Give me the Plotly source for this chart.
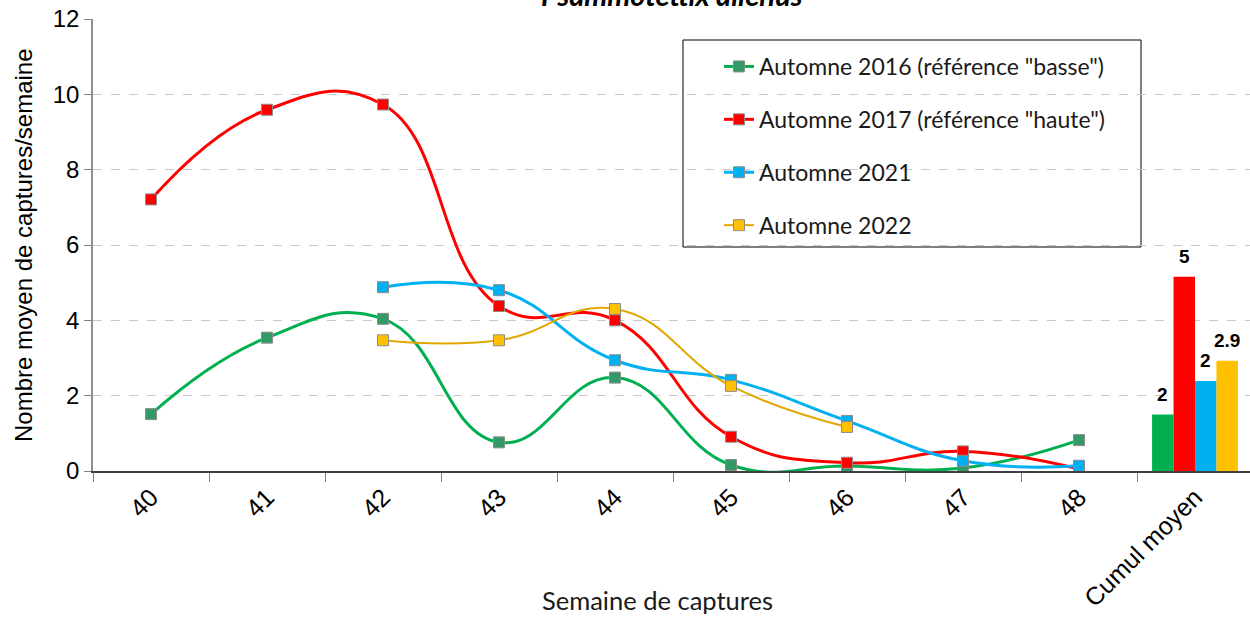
import plotly.graph_objects as go

categories = ["40", "41", "42", "43", "44", "45", "46", "47", "48", "Cumul moyen"]
weeks = categories[:9]

y2016 = [1.51, 3.54, 4.04, 0.76, 2.48, 0.16, 0.13, 0.08, 0.82]
y2017 = [7.21, 9.59, 9.73, 4.38, 4.00, 0.91, 0.22, 0.52, 0.05]
y2021 = [None, None, 4.88, 4.80, 2.94, 2.42, 1.33, 0.27, 0.14]
y2022 = [None, None, 3.47, 3.47, 4.30, 2.26, 1.17, None, None]

names = ['Automne 2016 (référence "basse")', 'Automne 2017 (référence "haute")',
         'Automne 2021', 'Automne 2022']
cumul = [1.50, 5.16, 2.39, 2.93]
cumul_labels = ["2", "5", "2", "2.9"]

line_colors = ["#00B050", "#FF0000", "#00B0F0", "#E0A800"]
marker_colors = ["#339966", "#FF0000", "#00B0F0", "#FFC000"]
bar_colors = ["#00B050", "#FF0000", "#00B0F0", "#FFC000"]
line_widths = [3, 3, 3, 2]

ARIAL = "Liberation Sans, Arial, sans-serif"
CALIBRI = "Lato, Carlito, Calibri, sans-serif"

W, H = 1250, 623
L, T, B = 93, 19, 152
plot_w = W - L
plot_h = H - T - B
CAT_W = 116.0
BARGAP = 0.26

def px_x(p):
    return (p - L) / plot_w

def px_y(p):
    return (H - B - p) / plot_h

fig = go.Figure()
series = [y2016, y2017, y2021, y2022]
for i, ys in enumerate(series):
    fig.add_trace(go.Scatter(
        x=weeks, y=ys, name=names[i], mode="lines+markers",
        line=dict(color=line_colors[i], width=line_widths[i], shape="spline", smoothing=1.3),
        marker=dict(symbol="square", size=11, color=marker_colors[i],
                    line=dict(color="#8C8C8C", width=1)),
        legendgroup=f"g{i}", connectgaps=False,
    ))

bar_w = CAT_W * (1 - BARGAP) / 4
annotations = []
for i in range(4):
    fig.add_trace(go.Bar(
        x=[categories[-1]], y=[cumul[i]], marker=dict(color=bar_colors[i], line=dict(width=0)),
        showlegend=False, hoverinfo="skip",
    ))
    annotations.append(dict(
        text=f"<b>{cumul_labels[i]}</b>", x=categories[-1], y=cumul[i], xref="x", yref="y",
        xanchor="center", yanchor="bottom", xshift=(i - 1.5) * bar_w, yshift=8,
        showarrow=False, font=dict(family=ARIAL, size=19, color="black"),
    ))

annotations += [
    dict(text="<b><i>Psammotettix alienus</i></b>", xref="paper", yref="paper",
         x=px_x(672), y=px_y(14), xanchor="center", yanchor="bottom",
         showarrow=False, font=dict(family=CALIBRI, size=29, color="black")),
    dict(text="Semaine de captures", xref="paper", yref="paper",
         x=px_x(657), y=px_y(600), xanchor="center", yanchor="middle",
         showarrow=False, font=dict(family=CALIBRI, size=25.5, color="#1a1a1a")),
    dict(text="Nombre moyen de captures/semaine", xref="paper", yref="paper",
         x=px_x(23), y=px_y(245), xanchor="center", yanchor="middle", textangle=-90,
         showarrow=False, font=dict(family=ARIAL, size=24, color="black")),
]

fig.update_layout(
    width=W, height=H,
    margin=dict(l=L, r=0, t=T, b=B, autoexpand=False),
    paper_bgcolor="white", plot_bgcolor="white",
    barmode="group", bargap=BARGAP, bargroupgap=0,
    font=dict(family=ARIAL, color="black"),
    legend=dict(
        x=px_x(719), y=px_y(45), xanchor="left", yanchor="top",
        bgcolor="rgba(0,0,0,0)", borderwidth=0,
        font=dict(family=CALIBRI, size=23, color="#1a1a1a"),
        tracegroupgap=20, itemwidth=30,
    ),
    xaxis=dict(
        type="category", categoryorder="array", categoryarray=categories,
        range=[-0.5, -0.5 + plot_w / CAT_W], automargin=False,
        tickson="boundaries", ticks="outside", ticklen=9, tickcolor="#808080",
        showline=True, linecolor="#404040", linewidth=1.5,
        tickangle=-45, tickfont=dict(family=ARIAL, size=25),
        showgrid=False, zeroline=False,
    ),
    yaxis=dict(
        range=[0, 12], dtick=2, ticks="outside", ticklen=7, tickcolor="#808080",
        showline=True, linecolor="#909090", linewidth=1.5, automargin=False,
        tickfont=dict(family=ARIAL, size=24),
        showgrid=True, gridcolor="#C8C8C8", griddash="dash", gridwidth=1,
        zeroline=False,
    ),
    shapes=[dict(type="rect", xref="paper", yref="paper",
                 x0=px_x(683), x1=px_x(1141), y0=px_y(247), y1=px_y(40),
                 line=dict(color="black", width=1), fillcolor="white", layer="below")],
    annotations=annotations,
)

fig.write_html("out.html", config={"displayModeBar": False},
               post_script="document.body.style.margin='0px';")
